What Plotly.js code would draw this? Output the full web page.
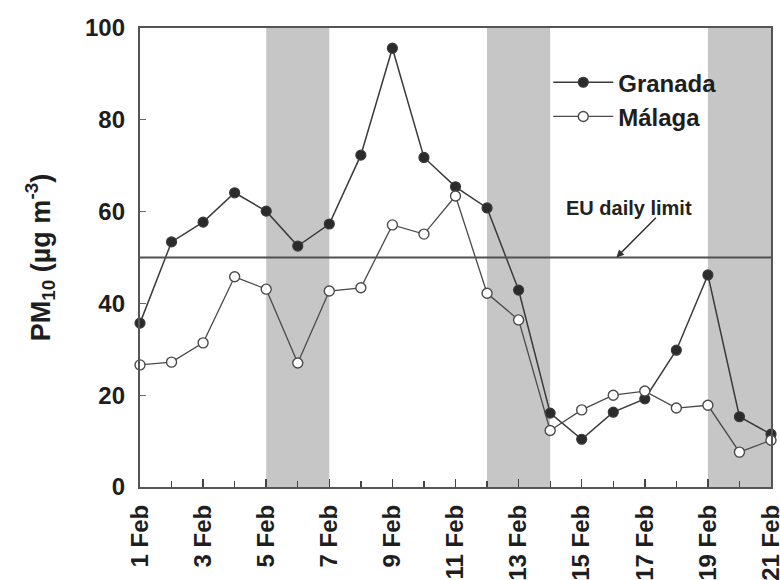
<!DOCTYPE html>
<html>
<head>
<meta charset="utf-8">
<script src="https://cdn.plot.ly/plotly-3.0.1.min.js"></script>
<style>html,body{margin:0;padding:0;background:#fff;}#chart{width:780px;height:580px;}</style>
</head>
<body>
<div id="chart"></div>
<script>
// Days of February (x positions = day of month)
const days = [1,2,3,4,5,6,7,8,9,10,11,12,13,14,15,16,17,18,19,20,21];
const granada = [35.7,53.4,57.7,64.1,60.1,52.5,57.3,72.3,95.6,71.8,65.4,60.8,42.9,16.1,10.4,16.3,19.2,29.8,46.2,15.3,11.5];
const malaga  = [26.6,27.2,31.4,45.8,43.1,27.0,42.7,43.4,57.1,55.1,63.4,42.2,36.4,12.3,16.8,20.0,20.9,17.2,17.8,7.6,10.2];
const tickDays = [1,3,5,7,9,11,13,15,17,19,21];
const tickLabels = ["1 Feb","3 Feb","5 Feb","7 Feb","9 Feb","11 Feb","13 Feb","15 Feb","17 Feb","19 Feb","21 Feb"];
const yTicks = [0,20,40,60,80,100];
// Weekend shading (start/end day)
const bandStart = [5,12,19];
const bandEnd   = [7,14,21];
const euLimit = 50;
const euLabel = "EU daily limit";

const ink = "#3a3a3a";
const fam = "Liberation Sans, Arial, sans-serif";
const txt = "#1e1e1e";

const traces = [
  {x:days, y:granada, name:"Granada", mode:"lines+markers", legendgroup:"g",
   line:{color:ink, width:1.5},
   marker:{symbol:"circle", size:10, color:"#2b2b2b", line:{color:ink, width:1.2}},
   cliponaxis:false},
  {x:days, y:malaga, name:"Málaga", mode:"lines+markers", legendgroup:"m",
   line:{color:"#4a4a4a", width:1.3},
   marker:{symbol:"circle", size:10, color:"#ffffff", line:{color:"#4a4a4a", width:1.4}},
   cliponaxis:false}
];

const shapes = bandStart.map((s,i)=>({type:"rect", xref:"x", yref:"paper", x0:s, x1:bandEnd[i], y0:0, y1:1,
  fillcolor:"#c6c6c6", line:{width:0}, layer:"below"}));
shapes.push({type:"line", xref:"paper", yref:"y", x0:0, x1:1, y0:euLimit, y1:euLimit,
  line:{color:"#505050", width:2.2}, layer:"above"});

const layout = {
  width:780, height:580,
  margin:{l:140, r:9, t:28, b:93},
  paper_bgcolor:"#fff", plot_bgcolor:"#fff",
  font:{family:fam, color:txt, weight:"bold"},
  showlegend:true,
  legend:{x:0.647, y:0.93, xanchor:"left", yanchor:"top", bgcolor:"rgba(0,0,0,0)",
    font:{family:fam, size:24, color:txt, weight:"bold"},
    itemwidth:60,
    traceorder:"grouped", tracegroupgap:0},
  xaxis:{range:[1,21], tickvals:tickDays, ticktext:tickLabels, tickangle:-90,
    ticks:"inside", ticklen:8, tickwidth:1.5, tickcolor:"#444",
    minor:{dtick:1, tick0:0, ticks:"inside", ticklen:6, tickwidth:1.3, tickcolor:"#444"},
    showline:true, linecolor:"#555", linewidth:2.2, mirror:true,
    showgrid:false, zeroline:false, ticklabeloverflow:"allow", ticklabelstandoff:6,
    tickfont:{family:fam, size:24, color:txt, weight:"bold"}},
  yaxis:{range:[0,100], tickvals:yTicks, ticks:"inside", ticklen:6, tickwidth:1.3, tickcolor:"#666",
    showline:true, linecolor:"#555", linewidth:2.2, mirror:true,
    showgrid:false, zeroline:false, ticklabelstandoff:8,
    tickfont:{family:fam, size:24, color:txt, weight:"bold"},
    title:{text:"PM<sub>10</sub> (µg m<sup>-3</sup>)", standoff:27,
      font:{family:fam, size:27, color:txt, weight:"bold"}}},
  shapes:shapes,
  annotations:[
    {x:16.5, y:60.8, xref:"x", yref:"y", text:euLabel, showarrow:false,
     font:{family:fam, size:20, color:"#222", weight:"bold"}},
    {x:16.1, y:euLimit, xref:"x", yref:"y", ax:17.4, ay:59.0, axref:"x", ayref:"y",
     text:"", showarrow:true, arrowhead:2, arrowsize:1, arrowwidth:1.5, arrowcolor:"#333"}
  ]
};

Plotly.newPlot("chart", traces, layout, {displayModeBar:false, staticPlot:true});
</script>
</body>
</html>
